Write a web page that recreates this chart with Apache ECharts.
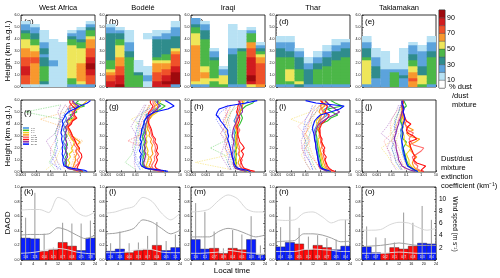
<!DOCTYPE html>
<html><head><meta charset="utf-8">
<script src="https://cdn.jsdelivr.net/npm/echarts@6/dist/echarts.min.js"></script>
<style>html,body{margin:0;padding:0;background:#fff}#c{width:500px;height:278px}</style>
</head><body><div id="c"></div>
<script>
// ---------------- DATA ----------------
const regions = ['West Africa','Bodélé','Iraqi','Thar','Taklamakan'];
const panelLetters = [['(a)','(b)','(c)','(d)','(e)'],['(f)','(g)','(h)','(i)','(j)'],['(k)','(l)','(m)','(n)','(o)']];
const timeBins = ['0-3','3-6','6-9','9-12','12-15','15-18','18-21','21-24'];
const hourStarts = [0,3,6,9,12,15,18,21];
const dayFlags = [0,0,1,1,1,1,0,0];
const binSize = 0.25; // km, vertical bin of the % dust cross-section

// % dust/dust mixture, per column (3-h bins), values from the ground upward in 0.25 km bins
const pctWestAfrica = [
 [15,75,75,75,85,85,85,75,75,75,65,65,65,55,55,55,45,45,35,25,25,15],
 [15,65,65,65,65,65,65,65,75,75,65,65,55,55,45,45,35,35,25,25,15],
 [15,35,45,45,45,45,45,35,35,35,25,35,35,25,25,15,15,15,15],
 [15,15,15,15,15,15,15,25,25,15,15,15,15,15,15,15],
 [15,15,15,15,15,15,15,15,15,15,15,15,15,15,15],
 [25,45,45,55,55,55,55,55,55,55,55,55,55,55,45,45,35,25,15],
 [25,55,65,65,65,65,65,65,55,55,55,55,55,45,45,35,25,25,25,15],
 [25,75,75,75,85,85,95,95,85,85,75,75,75,65,65,65,55,45,45,35,25,15]
];
const pctBodele = [
 [85,85,75,75,65,55,45,45,45,35,35,35,35,35,35,35,35,35,25,25,15],
 [95,85,85,85,75,75,75,65,65,65,55,55,55,55,45,45,35,35,25,15],
 [45,45,45,45,45,45,45,45,45,45,35,35,25,25,25,15,15,15,15],
 [45,45,45,45,35,15,15,15,15],
 [15,15,25,25,15,15,15,0,0,0,0,0,0,0,0,0,15,15],
 [85,85,75,75,75,65,65,65,55,45,35,35,35,35,35,35,25,15,15],
 [85,95,85,85,75,75,65,65,55,45,45,35,35,35,35,35,25,25,15],
 [25,95,95,95,95,85,85,75,75,75,75,65,55,35,35,35,35,25,25,25,15,15]
];
const pctIraqi = [
 [25,55,65,65,65,65,65,65,65,65,65,65,65,65,55,55,55,55,45,45,35,25,25],
 [25,55,55,65,65,55,55,45,45,45,45,45,45,45,45,45,35,35,35,25,25,15],
 [45,45,55,45,45,45,45,45,45,35,25,25,15],
 [45,55,55,55,25,25,15],
 [25,35,35,35,35,35,35,35,35,35,35,25,25,15,15,15,15,15,15,15,15],
 [25,45,45,45,45,45,45,45,45,45,45,45,35,15,15,15,15,15,15],
 [55,85,95,95,85,85,85,85,85,85,75,75,75,65,65,45,45,45,25,15],
 [65,75,75,75,75,75,75,75,65,65,55,45,35,25,15]
];
const pctThar = [
 [25,45,45,45,45,45,45,45,45,45,35,35,35,25,25,15,15],
 [25,45,55,55,55,55,45,45,45,45,35,35,25,25,25,15,15],
 [35,55,45,45,45,45,35,35,35,35,25,25,15],
 [25,35,35,35,35,35,25,25,15,15],
 [25,45,45,45,45,45,35,35,25,25,15,15],
 [25,45,45,45,45,45,45,35,35,35,25,25,15,15],
 [25,45,45,45,45,45,45,45,45,35,35,35,25,25,15,15],
 [25,45,45,45,45,45,45,45,45,45,35,35,35,25,25,15]
];
const pctTaklamakan = [
 [25,55,55,55,55,55,55,55,55,45,35,35,35,25,25,15,15],
 [25,25,25,35,35,35,35,25,25,25,15,15,15],
 [25,25,25,25,25,25,15,15,15,15,15,15],
 [45,45,45,45,45,25,15,15],
 [25,25,25,35,25,25,15,15,15,15,15,15,15],
 [65,65,75,65,65,55,55,45,45,35,35,25,25,25,15],
 [45,55,55,55,35,35,35,25,25,25,25,25,15,15],
 [25,45,45,45,45,45,45,45,45,45,35,35,25,25,25,15,15]
];
const pctAll = [pctWestAfrica,pctBodele,pctIraqi,pctThar,pctTaklamakan];

// extinction profiles (km-1): solid = dust/dust mixture per time bin at profHeights
const profHeights = [0.05,0.15,0.3,0.5,0.75,1,1.25,1.5,1.75,2,2.25,2.5,2.75,3,3.25,3.5,3.75,4,4.25,4.5,4.75,5,5.25,5.5,5.75,5.95];
const extWestAfrica = [
 [2,0.6,0.15,0.1,0.08,0.1,0.07,0.09,0.11,0.08,0.1,0.07,0.09,0.08,0.1,0.07,0.09,0.07,0.1,0.12,0.09,0.2,0.15,0.8,0.3,0.4],
 [1.5,0.5,0.2,0.12,0.1,0.13,0.1,0.14,0.11,0.1,0.14,0.12,0.1,0.13,0.1,0.12,0.1,0.15,0.12,0.3,0.2,0.6,0.4,2,0.5,0.8],
 [0.8,0.4,0.2,0.15,0.2,0.15,0.22,0.18,0.3,0.25,0.35,0.4,0.25,0.2,0.15,0.18,0.12,0.2,0.15,0.5,0.3,0.3,0.8,1.2,2,3],
 [0.7,0.5,0.3,0.35,0.4,0.5,0.45,0.6,0.5,0.8,0.6,1,0.5,0.3,0.25,0.2,0.15,0.2,0.25,0.4,0.3,0.3,0.6,0.5,0.3,0.3],
 [0.6,0.5,0.4,0.5,0.8,0.6,0.9,0.7,0.5,0.6,0.4,0.5,0.3,0.25,0.2,0.15,0.12,0.2,0.3,0.5,0.3,0.3,0.2,0.2,0.3,0.3],
 [1.5,1,0.6,0.7,0.9,1,1.3,1.2,0.8,0.9,0.6,0.5,0.4,0.3,0.25,0.2,0.15,0.25,0.3,0.6,0.4,0.4,0.5,0.3,0.2,0.2],
 [1,0.5,0.15,0.1,0.12,0.1,0.14,0.12,0.1,0.13,0.11,0.12,0.1,0.11,0.1,0.12,0.1,0.15,0.12,0.2,0.3,0.4,0.5,0.8,0.4,0.3],
 [3,2,0.3,0.08,0.07,0.065,0.07,0.06,0.065,0.06,0.07,0.06,0.055,0.06,0.05,0.055,0.06,0.07,0.06,0.08,0.1,0.15,0.4,1,3,5]
];
const extBodele = [
 [1,0.3,0.06,0.03,0.028,0.03,0.025,0.032,0.028,0.03,0.026,0.025,0.03,0.028,0.035,0.03,0.035,0.04,0.035,0.06,0.05,0.1,0.2,0.5,0.3,0.2],
 [0.8,0.25,0.06,0.035,0.03,0.04,0.032,0.04,0.035,0.045,0.035,0.04,0.035,0.03,0.04,0.045,0.05,0.05,0.06,0.08,0.1,0.2,0.5,1,0.4,0.3],
 [0.5,0.2,0.08,0.05,0.06,0.07,0.08,0.06,0.07,0.06,0.05,0.06,0.05,0.06,0.05,0.06,0.07,0.07,0.06,0.1,0.15,0.3,0.2,0.2,0.4,0.5],
 [0.4,0.25,0.12,0.08,0.1,0.12,0.1,0.15,0.13,0.12,0.14,0.1,0.12,0.08,0.09,0.07,0.06,0.08,0.07,0.1,0.12,0.2,0.3,0.3,0.2,0.2],
 [0.5,0.3,0.15,0.12,0.15,0.2,0.18,0.25,0.2,0.22,0.2,0.15,0.17,0.12,0.11,0.1,0.08,0.07,0.08,0.08,0.09,0.1,0.15,0.2,0.15,0.15],
 [0.8,0.5,0.25,0.2,0.25,0.3,0.25,0.35,0.25,0.3,0.28,0.2,0.22,0.15,0.13,0.12,0.1,0.08,0.07,0.06,0.07,0.08,0.12,0.15,0.1,0.1],
 [0.6,0.2,0.06,0.04,0.035,0.04,0.045,0.05,0.04,0.045,0.04,0.05,0.045,0.04,0.05,0.04,0.045,0.05,0.06,0.07,0.1,0.15,0.3,0.4,0.3,0.3],
 [1.5,0.6,0.05,0.025,0.02,0.022,0.02,0.025,0.018,0.022,0.02,0.025,0.02,0.022,0.025,0.025,0.03,0.035,0.04,0.05,0.08,0.2,1.5,4,2,1]
];
const extIraqi = [
 [0.5,0.3,0.15,0.1,0.09,0.1,0.085,0.08,0.09,0.1,0.09,0.1,0.08,0.09,0.08,0.09,0.1,0.11,0.08,0.1,0.12,0.15,0.2,0.2,0.5,0.8],
 [0.6,0.3,0.12,0.1,0.12,0.1,0.11,0.12,0.1,0.12,0.11,0.1,0.12,0.13,0.1,0.12,0.15,0.2,0.25,0.3,0.25,0.2,0.3,0.5,1.5,2],
 [0.4,0.25,0.14,0.12,0.1,0.12,0.11,0.1,0.12,0.1,0.12,0.11,0.1,0.1,0.12,0.13,0.1,0.12,0.13,0.15,0.2,0.2,0.25,0.3,0.35,0.4],
 [0.8,0.5,0.25,0.2,0.15,0.18,0.2,0.17,0.2,0.15,0.14,0.12,0.13,0.15,0.14,0.12,0.1,0.12,0.13,0.15,0.18,0.2,0.25,0.3,0.3,0.3],
 [1.5,0.8,0.3,0.2,0.22,0.3,0.2,0.15,0.18,0.2,0.17,0.15,0.14,0.12,0.16,0.2,0.15,0.1,0.11,0.12,0.14,0.15,0.18,0.2,0.22,0.25],
 [2,1,0.4,0.3,0.25,0.22,0.3,0.35,0.25,0.4,0.3,0.2,0.18,0.15,0.14,0.15,0.12,0.15,0.18,0.2,0.15,0.12,0.14,0.15,0.18,0.2],
 [0.5,0.25,0.1,0.08,0.07,0.08,0.065,0.06,0.07,0.065,0.07,0.08,0.07,0.06,0.065,0.07,0.08,0.1,0.12,0.15,0.2,0.3,0.3,0.25,0.2,0.15],
 [1,0.6,0.15,0.1,0.08,0.07,0.06,0.055,0.05,0.045,0.04,0.035,0.03,0.035,0.03,0.03,0.02,0.015,0.01,0.008,0.005,0.006,0.008,0.03,0.5,3]
];
const extThar = [
 [0.3,0.2,0.12,0.1,0.09,0.08,0.075,0.07,0.06,0.065,0.06,0.055,0.05,0.05,0.045,0.04,0.05,0.06,0.08,0.15,0.3,0.15,0.2,0.5,0.3,0.2],
 [0.4,0.25,0.15,0.12,0.11,0.1,0.09,0.08,0.075,0.07,0.065,0.06,0.06,0.055,0.05,0.06,0.08,0.1,0.3,0.5,1.5,0.6,0.3,3,1,0.5],
 [0.5,0.3,0.2,0.15,0.13,0.12,0.11,0.1,0.09,0.09,0.08,0.075,0.07,0.1,0.08,0.08,0.06,0.06,0.05,0.08,0.1,0.2,0.15,0.1,0.2,0.3],
 [0.6,0.4,0.25,0.2,0.17,0.15,0.13,0.12,0.1,0.11,0.15,0.12,0.1,0.08,0.09,0.07,0.06,0.07,0.08,0.1,0.12,0.08,0.1,0.2,0.15,0.1],
 [0.8,0.5,0.3,0.25,0.22,0.2,0.17,0.15,0.2,0.13,0.12,0.1,0.11,0.09,0.1,0.1,0.08,0.09,0.1,0.15,0.2,0.15,0.12,0.1,0.12,0.15],
 [1,0.6,0.4,0.3,0.25,0.2,0.25,0.18,0.15,0.2,0.15,0.12,0.13,0.1,0.09,0.08,0.1,0.12,0.2,0.3,0.4,0.2,0.25,0.3,0.15,0.1],
 [0.3,0.2,0.1,0.08,0.075,0.07,0.065,0.06,0.055,0.05,0.05,0.045,0.04,0.04,0.045,0.05,0.06,0.08,0.15,0.3,0.8,2,1,0.5,0.3,0.2],
 [0.5,0.3,0.12,0.09,0.08,0.07,0.065,0.06,0.055,0.05,0.048,0.045,0.04,0.038,0.035,0.03,0.03,0.035,0.04,0.06,0.1,0.5,2,4,0.05,0.01]
];
const extTaklamakan = [
 [0.5,0.3,0.2,0.12,0.1,0.08,0.07,0.06,0.055,0.05,0.05,0.048,0.045,0.04,0.045,0.04,0.05,0.045,0.04,0.045,0.05,0.06,0.05,0.05,0.06,0.08],
 [0.6,0.35,0.25,0.15,0.12,0.1,0.09,0.08,0.07,0.06,0.08,0.1,0.06,0.05,0.055,0.05,0.06,0.05,0.04,0.05,0.06,0.05,0.06,0.1,0.08,0.06],
 [0.8,0.5,0.3,0.2,0.15,0.15,0.12,0.1,0.15,0.2,0.1,0.08,0.07,0.07,0.06,0.055,0.05,0.06,0.05,0.05,0.04,0.05,0.05,0.06,0.05,0.05],
 [1,0.6,0.4,0.3,0.25,0.3,0.5,0.3,0.2,0.2,0.15,0.4,0.8,0.15,0.1,0.3,0.12,0.08,0.07,0.06,0.05,0.06,0.05,0.05,0.06,0.06],
 [1.2,0.8,0.5,0.6,0.35,0.3,0.25,0.5,1,1.5,0.3,0.2,0.15,0.2,0.3,0.12,0.1,0.08,0.1,0.07,0.06,0.05,0.06,0.06,0.05,0.05],
 [1.5,1,0.8,2,0.5,0.3,0.4,0.3,0.25,0.2,0.18,0.15,0.5,0.3,0.12,0.1,0.12,0.2,0.1,0.08,0.07,0.06,0.06,0.05,0.06,0.06],
 [0.4,0.2,0.1,0.05,0.04,0.03,0.028,0.025,0.022,0.02,0.02,0.018,0.015,0.017,0.02,0.022,0.025,0.03,0.032,0.04,0.045,0.05,0.06,0.05,0.05,0.06],
 [0.6,0.4,0.25,0.12,0.1,0.09,0.08,0.07,0.065,0.06,0.055,0.05,0.05,0.055,0.06,0.05,0.055,0.06,0.07,0.08,0.07,0.06,0.07,0.06,0.05,0.05]
];
// dotted thin profiles at dotHeights
const dotHeights = [0.2,0.8,1.4,2.0,2.6,3.2,3.8,4.4,5.0,5.6];
const extWestAfricaDot = [
 [0.05,0.03,0.02,0.02,0.03,0.02,0.03,0.04,0.05,0.1],
 [0.02,0.008,0.015,0.02,0.03,0.02,0.03,0.05,0.0002,0.05],
 [0.005,0.02,0.03,0.05,0.1,0.05,0.04,0.06,0.1,0.3],
 [0.2,0.3,0.4,0.6,1.5,0.1,0.06,0.002,0.1,0.2],
 [0.1,0.03,0.02,0.01,0.02,0.03,0.03,0.04,0.05,0.1],
 [0.3,0.5,0.4,0.3,0.2,0.1,0.08,0.15,0.2,0.1],
 [0.03,0.02,0.01,0.01,0.005,0.02,0.03,0.05,0.03,0.05],
 [0.05,0.01,0.02,0.03,0.02,0.03,0.04,0.05,0.1,0.2]
];
const extBodeleDot = [
 [0.02,0.015,0.01,0.015,0.02,0.015,0.02,0.01,0.03,0.05],
 [0.01,0.002,0.005,0.008,0.01,0.015,0.01,0.02,0.04,0.1],
 [0.03,0.02,0.03,0.02,0.015,0.02,0.03,0.005,0.05,0.1],
 [0.1,0.08,0.05,0.04,0.03,0.02,0.03,0.04,0.06,0.1],
 [0.08,0.05,0.04,0.03,0.01,0.02,0.015,0.02,0.03,0.05],
 [0.15,0.1,0.08,0.04,0.003,0.03,0.02,0.03,0.05,0.08],
 [0.01,0.008,0.01,0.006,0.008,0.01,0.005,0.01,0.02,0.04],
 [0.02,0.01,0.008,0.01,0.012,0.01,0.015,0.02,0.03,0.3]
];
const extIraqiDot = [
 [0.08,0.05,0.04,0.05,0.06,0.05,0.04,0.03,0.05,0.1],
 [0.05,0.03,0.02,0.002,0.02,0.03,0.02,0.03,0.05,0.2],
 [0.05,0.0002,0.03,0.02,0.03,0.02,0.03,0.02,0.04,0.05],
 [0.1,0.06,0.05,0.04,0.03,0.02,0.03,0.04,0.05,0.1],
 [0.05,0.04,0.03,0.02,0.03,0.01,0.02,0.03,0.02,0.03],
 [0.2,0.1,0.05,0.03,0.02,0.03,0.01,0.02,0.03,0.05],
 [0.04,0.02,0.01,0.015,0.02,0.01,0.02,0.015,0.03,0.02],
 [0.05,0.03,0.04,0.02,0.03,0.02,0.01,0.005,0.01,0.05]
];
const extTharDot = [
 [0.03,0.02,0.015,0.01,0.015,0.02,0.01,0.02,0.03,0.05],
 [0.05,0.03,0.02,0.015,0.01,0.02,0.03,0.02,0.05,0.1],
 [0.02,0.01,0.005,0.01,0.008,0.01,0.02,0.001,0.02,0.05],
 [0.1,0.05,0.03,0.02,0.015,0.01,0.02,0.03,0.05,0.08],
 [0.05,0.02,0.01,0.005,0.01,0.008,0.003,0.01,0.02,0.05],
 [0.1,0.05,0.02,0.01,0.02,0.01,0.015,0.02,0.03,0.1],
 [0.02,0.01,0.008,0.006,0.005,0.008,0.01,0.02,0.05,0.2],
 [0.03,0.02,0.01,0.008,0.01,0.006,0.008,0.01,0.02,0.03]
];
const extTaklamakanDot = [
 [0.05,0.03,0.02,0.015,0.01,0.02,0.015,0.02,0.03,0.04],
 [0.05,0.02,0.015,0.01,0.02,0.01,0.02,0.015,0.03,0.05],
 [0.03,0.01,0.005,0.002,0.01,0.008,0.01,0.02,0.03,0.05],
 [0.1,0.08,0.05,0.03,0.02,0.03,0.02,0.03,0.04,0.05],
 [0.05,0.03,0.01,0.005,0.003,0.01,0.008,0.01,0.02,0.05],
 [0.08,0.05,0.03,0.02,0.01,0.015,0.02,0.03,0.05,0.08],
 [0.02,0.01,0.008,0.005,0.008,0.002,0.005,0.01,0.02,0.03],
 [0.04,0.02,0.015,0.01,0.015,0.02,0.015,0.02,0.03,0.04]
];
const extAll = [extWestAfrica,extBodele,extIraqi,extThar,extTaklamakan];
const extDotAll = [extWestAfricaDot,extBodeleDot,extIraqiDot,extTharDot,extTaklamakanDot];

// DAOD per 3-h bin, upper error, and sample counts
const daodWestAfrica = [0.30,0.29,0.12,0.14,0.24,0.19,0.13,0.30];
const daodBodele     = [0.12,0.15,0.10,0.13,0.14,0.20,0.13,0.17];
const daodIraqi      = [0.28,0.15,0.16,0.09,0.16,0.14,0.28,0.07];
const daodThar       = [0.18,0.24,0.22,0.14,0.20,0.17,0.14,0.19];
const daodTaklamakan = [0.18,0.10,0.09,0.17,0.15,0.19,0.23,0.22];
const errWestAfrica = [0.58,0.92,0.36,0.17,0.51,0.50,0.50,0.54];
const errBodele     = [0.23,0.39,0.23,0.24,0.33,0.52,0.26,0.35];
const errIraqi      = [0.78,0.66,0.39,0.16,0.41,0.35,0.60,0.20];
const errThar       = [0.45,0.73,0.44,0.32,0.34,0.30,0.28,0.55];
const errTaklamakan = [0.46,0.31,0.30,0.24,0.65,0.51,0.74,0.55];
const cntWestAfrica = ['136','123','054','105','077','068','075','118'];
const cntBodele     = ['126','105','044','073','067','044','065','111'];
const cntIraqi      = ['116','111','077','089','084','065','103','091'];
const cntThar       = ['094','105','085','072','089','077','085','094'];
const cntTaklamakan = ['111','067','042','071','087','058','103','094'];
const daodAll = [daodWestAfrica,daodBodele,daodIraqi,daodThar,daodTaklamakan];
const errAll = [errWestAfrica,errBodele,errIraqi,errThar,errTaklamakan];
const cntAll = [cntWestAfrica,cntBodele,cntIraqi,cntThar,cntTaklamakan];

// wind speed (m s-1) at windHours
const windHours = [0,3,6,9,12,15,18,21,24];
const windHighAll = [
 [8.2,8.3,8.3,7.8,10.3,9.6,7.9,7.2,7.9],
 [7.7,7.9,8.4,8.8,10.3,9.6,7.7,6.6,7.7],
 [7.9,8.0,8.4,9.8,10.7,10.1,8.4,7.9,7.9],
 [6.6,6.5,6.6,7.7,7.9,7.1,6.1,6.6,6.6],
 [4.9,4.9,5.0,5.8,6.2,6.1,5.4,4.9,5.2]
];
const windMeanAll = [
 [4.1,4.2,4.2,4.3,5.3,4.9,4.1,3.5,4.1],
 [4.3,4.4,4.7,5.2,6.6,6.2,5.2,4.3,4.9],
 [3.8,3.8,3.8,4.7,5.2,4.9,4.3,3.8,4.1],
 [3.0,3.1,3.2,4.3,4.3,4.1,3.6,3.0,3.1],
 [2.2,2.3,2.4,2.6,2.8,2.6,2.4,2.4,2.4]
];
const windLowAll = [
 [1.1,1.2,1.4,1.8,1.9,1.7,1.3,1.1,1.0],
 [1.2,1.2,1.3,1.6,1.8,1.7,1.3,1.2,1.2],
 [1.1,1.1,1.2,1.3,1.6,1.4,1.2,1.1,1.1],
 [1.4,1.4,1.4,1.7,1.8,1.7,1.6,1.4,1.4],
 [1.1,1.1,1.1,1.2,1.3,1.2,1.1,1.1,1.1]
];

// tick labels
const heightTicks = ['0.0','1.0','2.0','3.0','4.0','5.0','6.0'];
const extTicks = ['0.0001','0.001','0.01','0.1','1','10'];
const hourTicks = ['0','4','8','12','16','20','24'];
const daodTicks = ['0.0','0.2','0.4','0.6','0.8','1.0'];
const windTicks = ['','2','4','6','8','10',''];
const cbClasses = [0,10,20,30,40,50,60,70,80,90];
const cbTickLabels = {10:'10',30:'30',50:'50',70:'70',90:'90'};

// ---------------- STYLE ----------------
const classColors = ['#ffffff','#b8e2f4','#5ca3dc','#2f8c8c','#4cb748','#eee65a','#f8982e','#ef512a','#d01c1f','#9e0a0e'];
const timeColors = ['#3d8fe0','#33c233','#f2d21c','#ff9a1a','#ff6a6a','#ff1010','#8a2ba8','#0010ff'];
const FONT = 'Liberation Sans, Arial, sans-serif';
const GL = [21,106,191,276,362], GW = 74;
const ROWTOP = [15,100,187], ROWH = [72,72,73];
function colorFor(v){ return classColors[Math.min(9, Math.floor(v/10))]; }

const grids=[], xAxes=[], yAxes=[], series=[];
const tick = {inside:true, length:2, lineStyle:{color:'#000', width:0.5}};
const minor = {show:true, length:1, splitNumber:4, lineStyle:{color:'#000', width:0.4}};
const lbl = (extra)=>Object.assign({fontSize:3.6, color:'#000', margin:1.5, fontFamily:FONT}, extra);

for (let r=0;r<3;r++) for (let p=0;p<5;p++){
  grids.push({left:GL[p], top:ROWTOP[r], width:GW, height:ROWH[r], show:true, borderColor:'#000', borderWidth:0.8, backgroundColor:'#fff'});
  const gi = r*5+p;
  if (r===0) xAxes.push({gridIndex:gi, type:'value', min:0, max:24, interval:3, axisLine:{show:false}, axisTick:tick, minorTick:minor, splitLine:{show:false}, axisLabel:{show:false}});
  if (r===1) xAxes.push({gridIndex:gi, type:'log', logBase:10, min:0.0001, max:10, axisLine:{show:false}, axisTick:tick, minorTick:{show:false}, splitLine:{show:false},
      axisLabel:lbl({fontSize:3.4, formatter:v=>extTicks[Math.round(Math.log10(v))+4]})});
  if (r===2) xAxes.push({gridIndex:gi, type:'value', min:0, max:24, interval:4, axisLine:{show:false}, axisTick:tick, minorTick:minor, splitLine:{show:false},
      axisLabel:lbl({formatter:v=>hourTicks[Math.round(v/4)]})});
}
for (let r=0;r<2;r++) for (let p=0;p<5;p++){
  yAxes.push({gridIndex:r*5+p, type:'value', min:0, max:6, interval:1, axisLine:{show:false}, axisTick:tick, minorTick:minor, splitLine:{show:false},
    axisLabel:lbl({formatter:v=>heightTicks[Math.round(v)]})});
}
for (let p=0;p<5;p++) yAxes.push({gridIndex:10+p, type:'value', min:0, max:1, interval:0.2, axisLine:{show:false}, axisTick:tick, minorTick:minor, splitLine:{show:false},
    axisLabel:lbl({formatter:v=>daodTicks[Math.round(v*5)]})});
for (let p=0;p<5;p++) yAxes.push({gridIndex:10+p, type:'value', position:'right', min:0, max:12, interval:2, axisLine:{show:false}, axisTick:tick, minorTick:minor, splitLine:{show:false},
    axisLabel: p===4 ? lbl({fontSize:6.5, margin:3, formatter:v=>windTicks[Math.round(v/2)]}) : {show:false}});
// colorbar grid
grids.push({left:439, top:10, width:6, height:78, show:true, borderColor:'#000', borderWidth:0.6});
xAxes.push({gridIndex:15, type:'value', min:0, max:1, show:false});
yAxes.push({gridIndex:15, type:'value', min:0, max:100, interval:10, position:'right', axisLine:{show:false}, axisTick:{show:false}, splitLine:{show:false},
  axisLabel:{fontSize:7, color:'#000', fontFamily:FONT, margin:2, formatter:v=>cbTickLabels[v]||''}});

// ---- Row 1: % dust cross sections ----
for (let p=0;p<5;p++){
  const data=[];
  pctAll[p].forEach((col,c)=>col.forEach((v,b)=>{ if(v>0) data.push([hourStarts[c], hourStarts[c]+3, b*binSize, (b+1)*binSize, v]); }));
  series.push({type:'custom', xAxisIndex:p, yAxisIndex:p, clip:true, silent:true, data,
    renderItem:(params, api)=>{
      const a=api.coord([api.value(0), api.value(3)]), b=api.coord([api.value(1), api.value(2)]);
      return {type:'rect', shape:{x:a[0], y:a[1], width:b[0]-a[0]+0.3, height:b[1]-a[1]+0.3}, style:{fill:colorFor(api.value(4))}};
    }});
}
// colorbar
series.push({type:'custom', xAxisIndex:15, yAxisIndex:20, silent:true, data:cbClasses.map(c=>[c, c+10]),
  renderItem:(params, api)=>{
    const a=api.coord([0, api.value(1)]), b=api.coord([1, api.value(0)]);
    return {type:'rect', shape:{x:a[0], y:a[1], width:b[0]-a[0], height:b[1]-a[1]}, style:{fill:colorFor(api.value(0)+5), stroke:'#333', lineWidth:0.3}};
  }});

// ---- Row 2: extinction profiles ----
for (let p=0;p<5;p++){
  extDotAll[p].forEach((arr,t)=>{
    series.push({type:'line', name:timeBins[t]+' ', xAxisIndex:5+p, yAxisIndex:5+p, showSymbol:false, silent:true, z:2, color:timeColors[t],
      lineStyle:{width:0.7, type:[1.5,1], opacity:0.55}, data:arr.map((v,i)=>[v, dotHeights[i]])});
  });
  extAll[p].forEach((arr,t)=>{
    series.push({type:'line', name:timeBins[t], xAxisIndex:5+p, yAxisIndex:5+p, showSymbol:false, silent:true, z:3, color:timeColors[t],
      lineStyle:{width:1.1}, data:arr.map((v,i)=>[v, profHeights[i]])});
  });
}

// ---- Row 3: DAOD bars, error bars, wind ----
for (let p=0;p<5;p++){
  const cnt = cntAll[p];
  series.push({type:'custom', xAxisIndex:10+p, yAxisIndex:10+p, silent:true, z:2,
    data: daodAll[p].map((v,i)=>[hourStarts[i], hourStarts[i]+3, v, dayFlags[i]]),
    renderItem:(params, api)=>{
      const a=api.coord([api.value(0), api.value(2)]), b=api.coord([api.value(1), 0]);
      return {type:'group', children:[
        {type:'rect', shape:{x:a[0], y:a[1], width:b[0]-a[0], height:b[1]-a[1]}, style:{fill: api.value(3)===1?'#ff0a0a':'#0a1eff', stroke:'#222', lineWidth:0.4}},
        {type:'text', x:(a[0]+b[0])/2, y:b[1]-0.8, style:{text:cnt[params.dataIndex], fontSize:2.8, fill:'#fff', align:'center', verticalAlign:'bottom', fontFamily:FONT}}
      ]};
    }});
  series.push({type:'custom', xAxisIndex:10+p, yAxisIndex:10+p, silent:true, z:4,
    data: errAll[p].map((v,i)=>[hourStarts[i]+1.5, v]),
    renderItem:(params, api)=>{
      const a=api.coord([api.value(0), api.value(1)]), b=api.coord([api.value(0), 0.01]);
      return {type:'line', shape:{x1:a[0], y1:a[1], x2:b[0], y2:b[1]}, style:{stroke:'#9a9a9a', lineWidth:1}};
    }});
  [[windHighAll,'#d2d2d2',0.9],[windMeanAll,'#a0a0a0',1],[windLowAll,'#e4e4e4',0.9]].forEach(([arr,col,w])=>{
    series.push({type:'line', xAxisIndex:10+p, yAxisIndex:15+p, showSymbol:false, silent:true, smooth:0.3, z:5,
      lineStyle:{color:col, width:w}, data:arr[p].map((v,i)=>[windHours[i], v])});
  });
}

// ---- texts ----
const graphic=[];
const txt=(x,y,text,size,extra)=>graphic.push(Object.assign({type:'text', x, y, silent:true,
   style:Object.assign({text, fontSize:size, fontFamily:FONT, fill:'#000', align:'left', verticalAlign:'middle'}, (extra||{}).style||{})}, extra?{rotation:extra.rotation||0}:{}));
regions.forEach((r,p)=>txt(GL[p]+GW/2, 7.5, r, 7.5, {style:{align:'center'}}));
const labelOff=[[7,7,7,7,7],[13,7,7,7,7],[5,5,5,5,5]];
for (let r=0;r<3;r++) for (let p=0;p<5;p++) txt(GL[p]+3, ROWTOP[r]+labelOff[r][p], panelLetters[r][p], 8);
txt(8, 51, 'Height (km a.g.l.)', 8, {rotation:Math.PI/2, style:{align:'center'}});
txt(8, 136, 'Height (km a.g.l.)', 8, {rotation:Math.PI/2, style:{align:'center'}});
txt(8, 223, 'DAOD', 8, {rotation:Math.PI/2, style:{align:'center'}});
txt(449, 87, '% dust', 7.5);
txt(452, 96, '/dust', 7.5);
txt(452, 105, 'mixture', 7.5);
txt(441, 159, 'Dust/dust', 7.5);
txt(441, 168, 'mixture', 7.5);
txt(441, 177, 'extinction', 7.5);
txt(441, 186, 'coefficient (km⁻¹)', 7.5);
txt(232, 271, 'Local time', 8, {style:{align:'center'}});
txt(455, 224, 'Wind speed (m s⁻¹)', 6.5, {rotation:-Math.PI/2, style:{align:'center'}});

const chart = echarts.init(document.getElementById('c'), null, {renderer:'canvas'});
chart.setOption({
  animation:false,
  backgroundColor:'#fff',
  grid:grids, xAxis:xAxes, yAxis:yAxes, series,
  legend:{data:timeBins, left:23, top:127, orient:'vertical', itemWidth:6, itemHeight:1.5, itemGap:0.3, padding:0, icon:'rect',
    selectedMode:false, textStyle:{fontSize:2.4, color:'#333', padding:[0,0,0,-3], fontFamily:FONT}},
  graphic
});
</script></body></html>
